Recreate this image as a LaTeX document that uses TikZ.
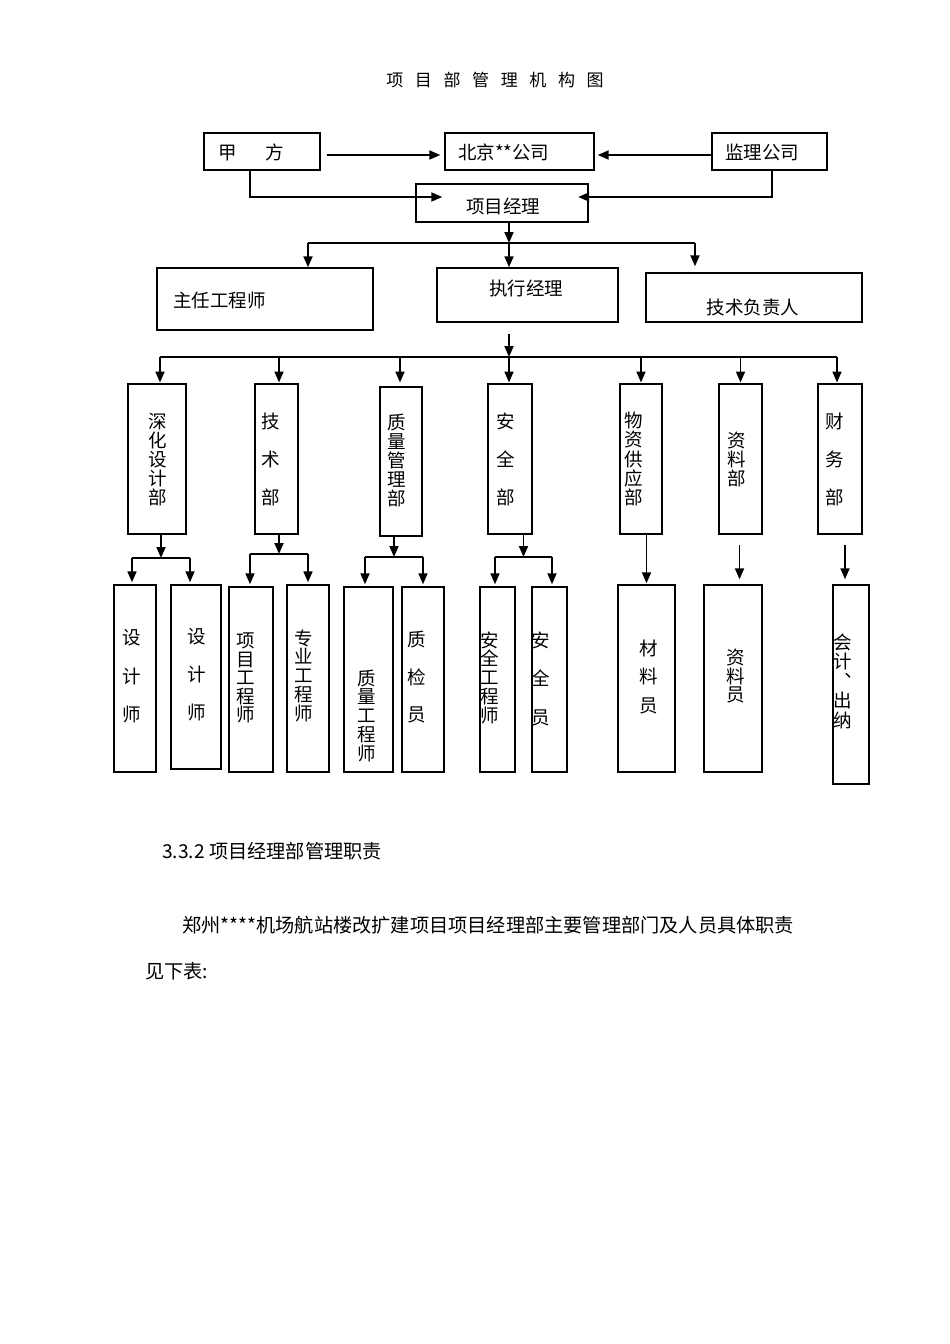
\documentclass[tikz,border=0pt]{standalone}
\usepackage{fontspec}
\setmainfont{Noto Sans CJK SC}
\usetikzlibrary{arrows.meta,fit,calc}
\begin{document}
\begin{tikzpicture}[x=1pt,y=-1pt,
  box/.style={draw,line width=1.4pt,inner sep=0pt},
  conn/.style={line width=1.8pt},
  arr/.style={conn,-{Triangle[length=11pt,width=9pt]}},
  lbl/.style={inner sep=0pt,font=\fontsize{18.5}{22}\selectfont},
  vt/.style={inner sep=0pt,align=center,font={\fontsize{18.5}{#1}\selectfont}},
  body/.style={inner sep=0pt,anchor=west,font=\fontsize{19.2}{23}\selectfont}]
\useasboundingbox[fill=white] (0,0) rectangle (950,1344);

% title
\node[inner sep=0pt,font=\fontsize{17}{20}\selectfont] (title) at (495,80)
  {项\hspace{11.6pt}目\hspace{11.6pt}部\hspace{11.6pt}管\hspace{11.6pt}理\hspace{11.6pt}机\hspace{11.6pt}构\hspace{11.6pt}图};

% top boxes
\node[box,fit={(204,133)(320,170)}] (jia) {};
\node[box,fit={(445,133)(594,170)}] (bj) {};
\node[box,fit={(712,133)(827,170)}] (jl) {};
\node[box,fit={(416,184)(588,222)}] (pm) {};
\node[box,fit={(157,268)(373,330)}] (zr) {};
\node[box,fit={(437,268)(618,322)}] (zx) {};
\node[box,fit={(646,273)(862,322)}] (js) {};

\node[lbl,anchor=west] (tjia) at (218,152) {甲\hspace{29pt}方};
\node[lbl,anchor=west] (tbj) at (458,152) {北京**公司};
\node[lbl,anchor=west] (tjl) at (725,152) {监理公司};
\node[lbl] (tpm) at (503,206) {项目经理};
\node[lbl,anchor=west] (tzr) at (173,300) {主任工程师};
\node[lbl] (tzx) at (526,288) {执行经理};
\node[lbl] (tjs) at (753,307) {技术负责人};

% departments
\node[box,fit={(128,384)(186,534)}] (d1) {};
\node[box,fit={(255,384)(298,534)}] (d2) {};
\node[box,fit={(380,387)(422,536)}] (d3) {};
\node[box,fit={(488,384)(532,534)}] (d4) {};
\node[box,fit={(620,384)(662,534)}] (d5) {};
\node[box,fit={(719,384)(762,534)}] (d6) {};
\node[box,fit={(818,384)(862,534)}] (d7) {};

\node[vt=19] (td1) at (158,460) {深\\化\\设\\计\\部};
\node[vt=38] (td2) at (271,459) {技\\术\\部};
\node[vt=19] (td3) at (397,460) {质\\量\\管\\理\\部};
\node[vt=38] (td4) at (506,459) {安\\全\\部};
\node[vt=19.25] (td5) at (634,459) {物\\资\\供\\应\\部};
\node[vt=19] (td6) at (737,459) {资\\料\\部};
\node[vt=38] (td7) at (835,459) {财\\务\\部};

% staff
\node[box,fit={(114,585)(156,772)}] (s1) {};
\node[box,fit={(171,585)(221,769)}] (s2) {};
\node[box,fit={(229,587)(273,772)}] (s3) {};
\node[box,fit={(287,585)(329,772)}] (s4) {};
\node[box,fit={(344,587)(393,772)}] (s5) {};
\node[box,fit={(402,587)(444,772)}] (s6) {};
\node[box,fit={(480,587)(515,772)}] (s7) {};
\node[box,fit={(532,587)(567,772)}] (s8) {};
\node[box,fit={(618,585)(675,772)}] (s9) {};
\node[box,fit={(704,585)(762,772)}] (s10) {};
\node[box,fit={(833,585)(869,784)}] (s11) {};

\node[vt=38.5] (ts1) at (132,676.5) {设\\计\\师};
\node[vt=38] (ts2) at (197,675) {设\\计\\师};
\node[vt=18.4] (ts3) at (246,678) {项\\目\\工\\程\\师};
\node[vt=18.75] (ts4) at (304,675.5) {专\\业\\工\\程\\师};
\node[vt=18.75] (ts5) at (367,715.5) {质\\量\\工\\程\\师};
\node[vt=37.5] (ts6) at (417,677.5) {质\\检\\员};
\node[vt=18.75] (ts7) at (490,677.5) {安\\全\\工\\程\\师};
\node[vt=38.5] (ts8) at (541,678.5) {安\\全\\员};
\node[vt=28.5] (ts9) at (649,676.5) {材\\料\\员};
\node[vt=18.5] (ts10) at (736,676.5) {资\\料\\员};
\node[vt=19.5] (ts11) at (843,681) {会\\计\\︑\\出\\纳};

% connectors top
\draw[arr] ($(jia.east)+(6,3.5)$) -- ($(bj.west)+(-4,3.5)$);
\draw[arr] ($(jl.west)+(0,3.5)$) -- ($(bj.east)+(3,3.5)$);
\draw[arr] ($(jia.south)+(-12,0)$) |- ($(pm.west)+(27,-6)$);
\draw[arr] ($(jl.south)+(2.5,0)$) |- ($(pm.east)+(-10.5,-6)$);

\coordinate (b1) at (509,243);
\coordinate (b1l) at (308,243);
\coordinate (b1r) at (695,243);
\draw[arr] (b1 |- pm.south) -- (b1);
\draw[conn] (b1l) -- (b1r);
\draw[arr] (b1l) -- (b1l |- zr.north);
\draw[arr] (b1) -- (b1 |- zx.north);
\draw[arr] (b1r) -- ($(b1r |- js.north)+(0,-6)$);

\coordinate (b2) at (509,357);
\draw[arr] ($(b2 |- zx.south)+(0,11)$) -- (b2);
\draw[conn] ($(d1.north |- b2)+(3,0)$) -- ($(d7.north |- b2)+(-3,0)$);
\foreach \d/\o in {d1/3,d2/2.5,d3/-1,d4/-1,d5/0,d6/0,d7/-3}
  \draw[arr] ($(\d.north |- b2)+(\o,0)$) -- ($(\d.north |- b2)+(\o,25.5)$);

% second level
\coordinate (m1) at (161,558);
\coordinate (m2) at (279,554);
\coordinate (m3) at (394,557);
\coordinate (m4) at (523.5,557);
\foreach \m/\d/\a/\oa/\b/\ob in {m1/d1/s1/-3/s2/-6, m2/d2/s3/-1/s4/0, m3/d3/s5/-3.5/s6/0, m4/d4/s7/-2.5/s8/2.5} {
  \draw[arr] (\m |- \d.south) -- (\m);
  \draw[conn] ($(\m -| \a.north)+(\oa,0)$) -- ($(\m -| \b.north)+(\ob,0)$);
  \draw[arr] ($(\m -| \a.north)+(\oa,0)$) -- ($(\a.north)+(\oa,-2)$);
  \draw[arr] ($(\m -| \b.north)+(\ob,0)$) -- ($(\b.north)+(\ob,-2)$);
}
\draw[arr] (s9.north |- d5.south) -- ($(s9.north)+(0,-1)$);
\draw[arr] ($(d6.south)+(-1,10)$) -- ($(d6.south |- s10.north)+(-1,-5)$);
\draw[arr] ($(d7.south)+(5,10)$) -- ($(d7.south |- s11.north)+(5,-5)$);

% body text
\node[body] (sec) at (162,851) {3.3.2 项目经理部管理职责};
\node[body] (p1) at (182,925) {郑州****机场航站楼改扩建项目项目经理部主要管理部门及人员具体职责};
\node[body] (p2) at (145,971) {见下表:};
\end{tikzpicture}
\end{document}
